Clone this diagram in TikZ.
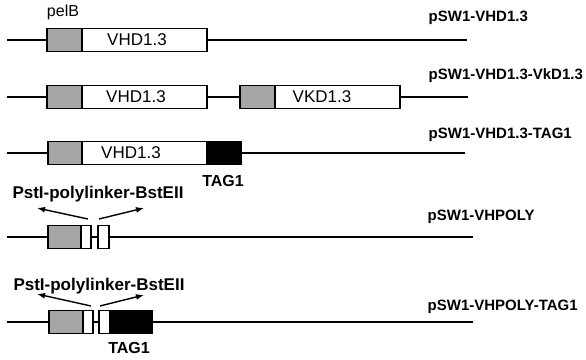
\documentclass[tikz,border=0pt]{standalone}
\usepackage{fontspec}
\setmainfont{Liberation Sans}
\usetikzlibrary{positioning,arrows.meta}

\tikzset{
	pelb/.style={draw, fill=black!35},
	gene/.style={draw, fill=white},
	tagbox/.style={draw, fill=black},
	plasmid/.style={anchor=west, inner sep=0pt, font=\bfseries\fontsize{15}{15}\selectfont},
	genetext/.style={inner sep=0pt, font=\fontsize{17}{17}\selectfont},
	taglabel/.style={inner sep=0pt, font=\bfseries\fontsize{16}{16}\selectfont},
	linker/.style={inner sep=0pt, font=\bfseries\fontsize{17}{17}\selectfont},
	arr/.style={-{Latex[length=8pt,width=6pt]}},
}

\begin{document}
\begin{tikzpicture}[x=1pt, y=-1pt, line width=1.4pt]
			\def\h{11.5};
			\useasboundingbox (0,0) rectangle (586,359);
			% backbones
			\foreach \name/\y/\e in {a/40/467, b/97/468, c/153/465, d/237/473, e/322/473} {
				\coordinate (\name0) at (7,\y);
				\coordinate (\name1) at (\e,\y);
				\draw (\name0) -- (\name1);
			}
			% pSW1-VHD1.3
			\draw[pelb] (47,40-\h) rectangle (82,40+\h);
			\draw[gene] (82,40-\h) rectangle (207,40+\h);
			\node[genetext] (vha) at (137,40) {VHD1.3};
			\node[inner sep=0pt, font=\fontsize{16}{16}\selectfont] (pelb) at (63,12) {pelB};
			\node[plasmid] (pa) at (428,18) {pSW1-VHD1.3};
			% pSW1-VHD1.3-VkD1.3
			\foreach \l/\r in {47/207, 240/400} {
				\draw[pelb] (\l,97-\h) rectangle (\l+35,97+\h);
				\draw[gene] (\l+35,97-\h) rectangle (\r,97+\h);
			}
			\node[genetext] (vhb) at (136,97) {VHD1.3};
			\node[genetext] (vkb) at (322,97) {VKD1.3};
			\node[plasmid] (pb) at (428,76) {pSW1-VHD1.3-VkD1.3};
			% pSW1-VHD1.3-TAG1
			\draw[pelb] (48,153-\h) rectangle (82,153+\h);
			\draw[gene] (82,153-\h) rectangle (207,153+\h);
			\draw[tagbox] (207,153-\h) rectangle (241,153+\h);
			\node[genetext] (vhc) at (131,153) {VHD1.3};
			\node[taglabel] (tagc) at (223,181) {TAG1};
			\node[plasmid] (pc) at (428,135) {pSW1-VHD1.3-TAG1};
			% pSW1-VHPOLY
			\draw[pelb] (48,237-\h) rectangle (81,237+\h);
			\draw[gene] (81,237-\h) rectangle (91,237+\h);
			\draw[gene] (98,237-\h) rectangle (109,237+\h);
			\node[linker] (lkd) at (98,194) {PstI-polylinker-BstEII};
			\coordinate (dl) at (88,219);
			\coordinate (dr) at (99,219);
			\draw[arr] (dl) -- (37,208);
			\draw[arr] (dr) -- (144,208);
			\node[plasmid] (pd) at (427,217) {pSW1-VHPOLY};
			% pSW1-VHPOLY-TAG1
			\draw[pelb] (49,322-\h) rectangle (83,322+\h);
			\draw[gene] (83,322-\h) rectangle (93,322+\h);
			\draw[gene] (99,322-\h) rectangle (110,322+\h);
			\draw[tagbox] (110,322-\h) rectangle (152,322+\h);
			\node[linker] (lke) at (99,286) {PstI-polylinker-BstEII};
			\coordinate (el) at (91,306);
			\coordinate (er) at (100,306);
			\draw[arr] (el) -- (37,294);
			\draw[arr] (er) -- (144,295);
			\node[taglabel] (tage) at (129,348) {TAG1};
			\node[plasmid] (pe) at (427,307) {pSW1-VHPOLY-TAG1};
		\end{tikzpicture}
\end{document}
